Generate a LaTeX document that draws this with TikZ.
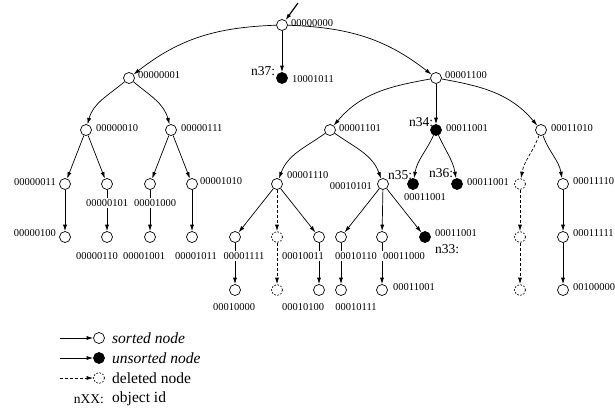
\documentclass[tikz,border=0pt]{standalone}
\usepackage{fontspec}
\setmainfont{Liberation Serif}
\usetikzlibrary{arrows.meta}
\begin{document}
\begin{tikzpicture}[x=1pt,y=1pt,
  every node/.style={inner sep=0pt},
  srt/.style={circle,draw,minimum size=11pt,line width=0.7pt,fill=white},
  uns/.style={circle,draw,fill=black,minimum size=11pt,line width=0.7pt},
  del/.style={circle,draw,dash pattern=on 1.6pt off 1.6pt,minimum size=11pt,line width=0.7pt},
  edge/.style={line width=0.7pt,-{Latex[length=6.5pt,width=4pt]}},
  dedge/.style={edge,dash pattern=on 3pt off 2pt},
  idl/.style={font=\fontsize{10.5}{11}\selectfont},
  idw/.style={idl,fill=white,inner sep=1pt},
  oid/.style={font=\fontsize{13.5}{14}\selectfont},
  lg/.style={font=\fontsize{15.5}{16}\selectfont}]
\useasboundingbox (0,0) rectangle (615,-416);
% level 0/1
\node[srt] (r) at (282,-25) {};
\coordinate (rin) at (298,-3);
\node[srt] (a1) at (129,-78) {};
\node[uns] (n37) at (282,-78) {};
\node[srt] (b1) at (436,-78) {};
% level 2
\node[srt] (a2) at (86,-130) {};
\node[srt] (a3) at (171,-130) {};
\node[srt] (b2) at (330,-130) {};
\node[uns] (n34) at (436,-130) {};
\node[srt] (b3) at (541,-130) {};
% level 3
\node[srt] (c1) at (65,-184) {};
\node[srt] (c2) at (107,-184) {};
\node[srt] (c3) at (150,-184) {};
\node[srt] (c4) at (192,-184) {};
\node[srt] (c5) at (277,-184) {};
\node[srt] (c6) at (383,-184) {};
\node[uns] (n35) at (413,-184) {};
\node[uns] (n36) at (457,-184) {};
\node[del] (d1) at (520,-184) {};
\node[srt] (c7) at (563,-184) {};
% level 4
\node[srt] (e1) at (65,-237) {};
\node[srt] (e2) at (107,-237) {};
\node[srt] (e3) at (150,-237) {};
\node[srt] (e4) at (192,-237) {};
\node[srt] (e5) at (235,-237) {};
\node[del] (d2) at (277,-237) {};
\node[srt] (e6) at (319,-237) {};
\node[srt] (e7) at (341,-237) {};
\node[srt] (e8) at (382,-237) {};
\node[uns] (n33) at (425,-237) {};
\node[del] (d3) at (520,-237) {};
\node[srt] (e9) at (563,-237) {};
% level 5
\node[srt] (f1) at (235,-290) {};
\node[del] (d4) at (277,-290) {};
\node[srt] (f2) at (319,-290) {};
\node[srt] (f3) at (341,-290) {};
\node[srt] (f4) at (382,-290) {};
\node[del] (d5) at (520,-290) {};
\node[srt] (f5) at (563,-290) {};
% edges
\draw[edge,line width=1.2pt] (rin) -- (r);
\draw[edge] (r) to[out=182,in=38] (a1);
\draw[edge] (r) to[out=-2,in=142] (b1);
\draw[edge] (r) -- (n37);
\draw[edge] (a1) to[out=-140,in=75] (a2);
\draw[edge] (a1) to[out=-40,in=105] (a3);
\draw[edge] (b1) to[out=190,in=50] (b2);
\draw[edge] (b1) -- (n34);
\draw[edge] (b1) to[out=-10,in=130] (b3);
\draw[edge] (a2) -- (c1);
\draw[edge] (a2) -- (c2);
\draw[edge] (a3) -- (c3);
\draw[edge] (a3) -- (c4);
\draw[edge] (b2) to[out=-145,in=70] (c5);
\draw[edge] (b2) to[out=-35,in=110] (c6);
\draw[edge] (n34) to[out=-115,in=80] (n35);
\draw[edge] (n34) to[out=-65,in=100] (n36);
\draw[dedge] (b3) to[out=-110,in=80] (d1);
\draw[edge] (b3) to[out=-70,in=100] (c7);
\draw[edge] (c1) -- (e1);
\draw[edge] (c2) -- (e2);
\draw[edge] (c3) -- (e3);
\draw[edge] (c4) -- (e4);
\draw[edge] (c5) -- (e5);
\draw[dedge] (c5) -- (d2);
\draw[edge] (c5) -- (e6);
\draw[edge] (c6) -- (e7);
\draw[edge] (c6) -- (e8);
\draw[edge] (c6) -- (n33);
\draw[dedge] (d1) -- (d3);
\draw[edge] (c7) -- (e9);
\draw[edge] (e5) -- (f1);
\draw[dedge] (d2) -- (d4);
\draw[edge] (e6) -- (f2);
\draw[edge] (e7) -- (f3);
\draw[edge] (e8) -- (f4);
\draw[dedge] (d3) -- (d5);
\draw[edge] (e9) -- (f5);
% id labels
\node[idl,anchor=west] (lr) at (291,-23) {00000000};
\node[idl,anchor=west] (la1) at (138,-75) {00000001};
\node[idl,anchor=west] (ln37) at (292,-79) {10001011};
\node[idl,anchor=west] (lb1) at (445,-75) {00001100};
\node[idl,anchor=west] (la2) at (96,-128) {00000010};
\node[idl,anchor=west] (la3) at (181,-128) {00000111};
\node[idl,anchor=west] (lb2) at (339,-128) {00001101};
\node[idl,anchor=west] (ln34) at (446,-128) {00011001};
\node[idl,anchor=west] (lb3) at (551,-128) {00011010};
\node[idl,anchor=east] (lc1) at (56,-182) {00000011};
\node[idw] (lc2) at (107,-203) {00000101};
\node[idw] (lc3) at (155,-203) {00001000};
\node[idl,anchor=west] (lc4) at (200,-181) {00001010};
\node[idl,anchor=west] (lc5) at (287,-175) {00001110};
\node[idl,anchor=east] (lc6) at (372,-186) {00010101};
\node[idl] (ln35) at (425,-197) {00011001};
\node[idl,anchor=east] (ld1) at (509,-182) {00011001};
\node[idl,anchor=west] (lc7) at (573,-181) {00011110};
\node[idl,anchor=east] (le1) at (56,-233) {00000100};
\node[idl] (le2) at (97,-256) {00000110};
\node[idl] (le3) at (144,-256) {00001001};
\node[idl] (le4) at (196,-256) {00001011};
\node[idw] (le5) at (244,-256) {00001111};
\node[idw] (le6) at (303,-256) {00010011};
\node[idw] (le7) at (356,-256) {00010110};
\node[idw] (le8) at (404,-256) {00011000};
\node[idl,anchor=west] (ln33) at (435,-233) {00011001};
\node[idl,anchor=west] (le9) at (573,-233) {00011111};
\node[idl] (lf1) at (234,-307) {00010000};
\node[idl] (lf2) at (303,-307) {00010100};
\node[idl] (lf3) at (356,-307) {00010111};
\node[idl,anchor=west] (lf4) at (393,-287) {00011001};
\node[idl,anchor=west] (lf5) at (573,-287) {00100000};
% object ids
\node[oid] (o37) at (263,-71) {n37:};
\node[oid] (o34) at (421,-122) {n34:};
\node[oid] (o35) at (400,-175) {n35:};
\node[oid] (o36) at (441,-173) {n36:};
\node[oid] (o33) at (447,-249) {n33:};
% legend
\coordinate (g1) at (60,-338);
\node[srt] (h1) at (99,-338) {};
\draw[edge] (g1) -- (h1);
\node[lg,anchor=west] (t1) at (112,-338) {\itshape sorted node};
\coordinate (g2) at (60,-358);
\node[uns] (h2) at (99,-358) {};
\draw[edge] (g2) -- (h2);
\node[lg,anchor=west] (t2) at (112,-358) {\itshape unsorted node};
\coordinate (g3) at (60,-378);
\node[del] (h3) at (99,-378) {};
\draw[dedge] (g3) -- (h3);
\node[lg,anchor=west] (t3) at (112,-378) {deleted node};
\node[font=\fontsize{13.5}{14}\selectfont,anchor=east] (t4a) at (104,-399) {nXX:};
\node[lg,anchor=west] (t4) at (112,-399) {object id};
\end{tikzpicture}
\end{document}
